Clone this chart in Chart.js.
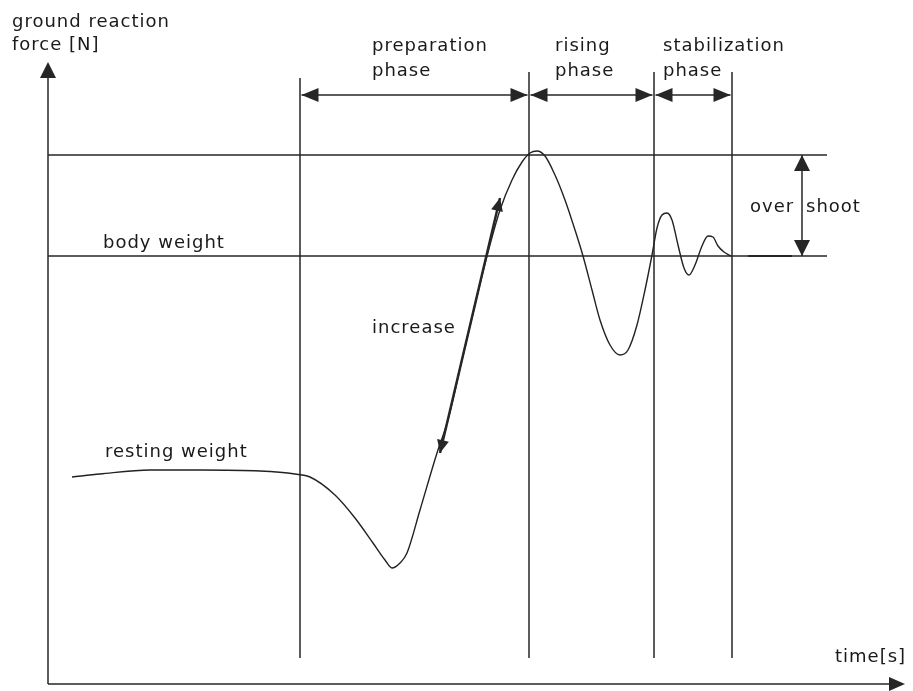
<!DOCTYPE html>
<html>
<head>
<meta charset="utf-8">
<script src="https://cdn.jsdelivr.net/npm/chart.js@4.4.1/dist/chart.umd.min.js"></script>
<style>
  html, body { margin: 0; padding: 0; background: #fff; }
  #wrap { position: relative; width: 913px; height: 691px; }
</style>
</head>
<body>
<div id="wrap"><canvas id="grf"></canvas></div>
<script>
// sit-to-stand ground reaction force (time in s, force in arbitrary units)
const time = [0.24, 0.52, 1.02, 1.52, 2.12, 2.47, 2.62, 2.87, 3.07, 3.25, 3.37, 3.44, 3.52, 3.59,
  3.72, 3.89, 4.00, 4.14, 4.27, 4.39, 4.52, 4.64, 4.74, 4.82, 4.89, 4.97, 5.07, 5.17, 5.27,
  5.35, 5.44, 5.52, 5.62, 5.72, 5.80, 5.89, 5.97, 6.04, 6.09, 6.14, 6.19, 6.24, 6.30, 6.36,
  6.41, 6.47, 6.54, 6.60, 6.65, 6.70, 6.76, 6.83]
const force = [207, 210, 214, 214, 213, 210, 207, 189, 166, 141, 124, 116, 121, 131,
  174, 231, 264, 324, 379, 428, 474, 504, 522, 531, 533, 528, 509, 484, 454,
  428, 394, 364, 339, 329, 334, 359, 394, 429, 456, 469, 471, 464, 439, 416,
  409, 419, 438, 448, 447, 438, 432, 428]

const phaseBounds = [2.52, 4.81, 6.06, 6.84]
const phaseNames = [['preparation', 'phase'], ['rising', 'phase'], ['stabilization', 'phase']]
const bodyWeight = 428
const peakForce = 529
const increaseFrom = { t: 3.92, f: 231 }
const increaseTo = { t: 4.52, f: 486 }

const INK = '#262626'
const FONT = '18px "DejaVu Sans", sans-serif'

function arrowHead(ctx, x, y, angle, len, half) {
  ctx.save()
  ctx.translate(x, y)
  ctx.rotate(angle)
  ctx.beginPath()
  ctx.moveTo(0, 0)
  ctx.lineTo(-len, -half)
  ctx.lineTo(-len, half)
  ctx.closePath()
  ctx.fill()
  ctx.restore()
}

function line(ctx, x1, y1, x2, y2) {
  ctx.beginPath()
  ctx.moveTo(x1, y1)
  ctx.lineTo(x2, y2)
  ctx.stroke()
}

function doubleArrow(ctx, x1, y1, x2, y2, len, half) {
  line(ctx, x1, y1, x2, y2)
  const a = Math.atan2(y2 - y1, x2 - x1)
  arrowHead(ctx, x2, y2, a, len, half)
  arrowHead(ctx, x1, y1, a + Math.PI, len, half)
}

const sketch = {
  id: 'sketch',
  beforeDatasetsDraw(chart) {
    const { ctx, scales: { x, y } } = chart
    ctx.save()
    ctx.strokeStyle = INK
    ctx.fillStyle = INK
    ctx.lineWidth = 1.5

    // axes
    line(ctx, x.getPixelForValue(0), y.getPixelForValue(0), x.getPixelForValue(0), y.getPixelForValue(612))
    arrowHead(ctx, x.getPixelForValue(0), y.getPixelForValue(622), -Math.PI / 2, 16, 8)
    line(ctx, x.getPixelForValue(0), y.getPixelForValue(0), x.getPixelForValue(8.47), y.getPixelForValue(0))
    arrowHead(ctx, x.getPixelForValue(8.57), y.getPixelForValue(0), 0, 16, 7)

    // reference force levels
    ;[peakForce, bodyWeight].forEach(f => {
      line(ctx, x.getPixelForValue(0), y.getPixelForValue(f), x.getPixelForValue(7.79), y.getPixelForValue(f))
    })

    // phase boundaries
    phaseBounds.forEach((t, i) => {
      line(ctx, x.getPixelForValue(t), y.getPixelForValue(26), x.getPixelForValue(t), y.getPixelForValue(i === 0 ? 606 : 612))
    })
    ctx.restore()
  },
  afterDatasetsDraw(chart) {
    const { ctx, scales: { x, y } } = chart
    ctx.save()
    ctx.strokeStyle = INK
    ctx.fillStyle = INK
    ctx.lineWidth = 1.5

    // phase arrows
    const ay = y.getPixelForValue(589)
    for (let i = 0; i < phaseNames.length; i++) {
      const x1 = x.getPixelForValue(phaseBounds[i]) + 1.5
      const x2 = x.getPixelForValue(phaseBounds[i + 1]) - 1.5
      doubleArrow(ctx, x1, ay, x2, ay, 17, 7)
    }

    // overshoot arrow
    const ox = x.getPixelForValue(7.54)
    doubleArrow(ctx, ox, y.getPixelForValue(peakForce), ox, y.getPixelForValue(bodyWeight), 16, 8)

    // settled level mark
    ctx.lineWidth = 2
    line(ctx, x.getPixelForValue(7.0), y.getPixelForValue(bodyWeight), x.getPixelForValue(7.44), y.getPixelForValue(bodyWeight))

    // increase arrow
    ctx.lineWidth = 2.5
    doubleArrow(ctx, x.getPixelForValue(increaseFrom.t), y.getPixelForValue(increaseFrom.f),
      x.getPixelForValue(increaseTo.t), y.getPixelForValue(increaseTo.f), 13, 6)

    // labels
    ctx.font = FONT
    ctx.letterSpacing = '1px'
    ctx.textBaseline = 'alphabetic'
    ctx.fillStyle = '#1a1a1a'
    const text = (s, t, f) => ctx.fillText(s, x.getPixelForValue(t), y.getPixelForValue(f))
    text('ground reaction', -0.36, 657)
    text('force [N]', -0.36, 634)
    const labelT = [3.24, 5.07, 6.15]
    phaseNames.forEach((lines, i) => {
      text(lines[0], labelT[i], 633)
      text(lines[1], labelT[i], 608)
    })
    text('body weight', 0.55, 436)
    text('resting weight', 0.57, 227)
    text('increase', 3.24, 351)
    text('over', 7.02, 472)
    text('shoot', 7.58, 472)
    text('time[s]', 7.87, 22)
    ctx.restore()
  }
}

new Chart(document.getElementById('grf'), {
  type: 'scatter',
  data: {
    datasets: [{
      data: time.map((t, i) => ({ x: t, y: force[i] })),
      showLine: true,
      borderColor: '#222',
      borderWidth: 1.4,
      cubicInterpolationMode: 'monotone',
      pointRadius: 0,
      pointHoverRadius: 0
    }]
  },
  options: {
    responsive: true,
    maintainAspectRatio: false,
    animation: false,
    layout: { padding: 0 },
    plugins: {
      legend: { display: false },
      tooltip: { enabled: false }
    },
    scales: {
      x: { type: 'linear', display: false, min: -0.48, max: 8.65 },
      y: { type: 'linear', display: false, min: -7, max: 684 }
    }
  },
  plugins: [sketch]
})
</script>
</body>
</html>
